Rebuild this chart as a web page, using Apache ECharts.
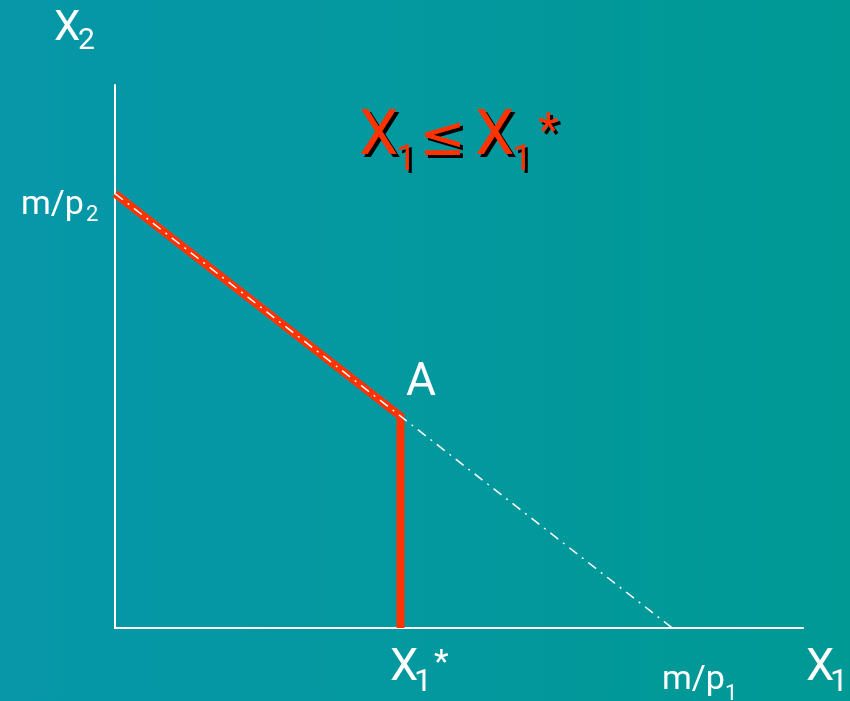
<!DOCTYPE html>
<html>
<head>
<meta charset="utf-8">
<script src="https://cdn.jsdelivr.net/npm/echarts@6/dist/echarts.min.js"></script>
<style>
  html, body { margin: 0; padding: 0; }
  #main { width: 850px; height: 701px; }
</style>
</head>
<body>
<div id="main"></div>
<script>
// budget line intercepts and the ration point (axis units 0..10)
var mOverP2 = 8.0;   // y intercept
var mOverP1 = 8.1;   // x intercept
var x1Star = 4.15;   // ration level
var yAtA = 3.9;      // height of the budget line at X1*

var budgetLine = [[0, mOverP2], [mOverP1, 0]];
var feasibleEdge = [[0, mOverP2], [x1Star, yAtA], [x1Star, 0]];

var FONT = 'Roboto, "Noto Sans", sans-serif';
var RED = '#ff3300';

// 基于准备好的dom，初始化echarts实例
var myChart = echarts.init(document.getElementById('main'));

// place text by its baseline (top of box is about 0.79*size above baseline)
function txt(str, x, base, size, color, font) {
  return {
    type: 'text', z: 10,
    style: {
      text: str, x: x, y: base - 0.79 * size,
      fill: color || '#ffffff',
      font: size + 'px ' + (font || FONT),
      verticalAlign: 'top',
      align: 'left'
    }
  };
}

// red title with a hard black shadow
function redTxt(str, x, base, size, font) {
  return [
    txt(str, x + 3, base + 3, size, '#000000', font),
    txt(str, x, base, size, RED, font)
  ];
}

var graphics = [
  // X2 axis title
  txt('X', 54, 42, 42),
  txt('2', 78, 50, 30),
  // m/p2
  txt('m/p', 21, 215, 34),
  txt('2', 86, 222, 22),
  // A
  txt('A', 406, 397, 46),
  // X1*
  txt('X', 390, 682, 45),
  txt('1', 414, 692, 32),
  txt('*', 434, 674, 34),
  // m/p1
  txt('m/p', 662, 690, 34),
  txt('1', 725, 701, 22),
  // X1
  txt('X', 806, 682, 45),
  txt('1', 830, 692, 32)
];
graphics = graphics
  .concat(redTxt('X', 359, 157, 63))
  .concat(redTxt('1', 396, 171, 36))
  .concat(redTxt('\u2264', 419, 157, 56, '"DejaVu Sans"'))
  .concat(redTxt('X', 475, 157, 63))
  .concat(redTxt('1', 512, 171, 36))
  .concat(redTxt('*', 538, 148, 48));

var option = {
  backgroundColor: {
    type: 'linear', x: 0, y: 0, x2: 1, y2: 0,
    colorStops: [
      { offset: 0, color: '#0797a9' },
      { offset: 1, color: '#009994' }
    ]
  },
  animation: false,
  grid: { left: 115, right: 47, top: 85, bottom: 73 },
  xAxis: {
    type: 'value', min: 0, max: 10,
    axisLine: { show: true, onZero: false, lineStyle: { color: '#ffffff', width: 2 } },
    axisTick: { show: false }, axisLabel: { show: false }, splitLine: { show: false }
  },
  yAxis: {
    type: 'value', min: 0, max: 10,
    axisLine: { show: true, onZero: false, lineStyle: { color: '#ffffff', width: 2 } },
    axisTick: { show: false }, axisLabel: { show: false }, splitLine: { show: false }
  },
  series: [
    {
      type: 'line', data: feasibleEdge, symbol: 'none', z: 2,
      lineStyle: { color: RED, width: 8, join: 'miter' }
    },
    {
      type: 'line', data: budgetLine, symbol: 'none', z: 3,
      lineStyle: { color: '#ffffff', width: 1.5, type: [10, 6, 2, 6] }
    }
  ],
  graphic: graphics
};
myChart.setOption(option);
</script>
</body>
</html>
